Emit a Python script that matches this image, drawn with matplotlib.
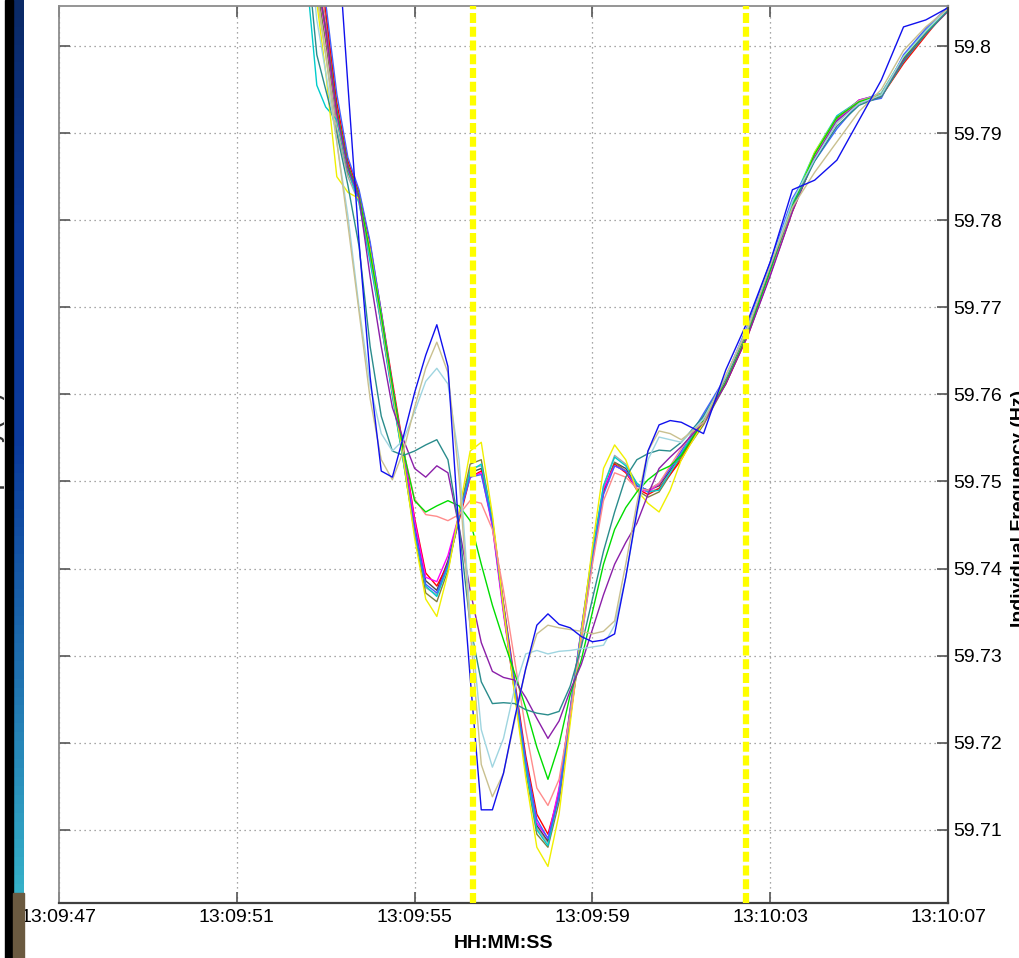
import matplotlib.pyplot as plt
import numpy as np
from matplotlib.colors import LinearSegmentedColormap

plt.rcParams['font.family'] = ['Liberation Sans', 'DejaVu Sans']

# seconds after 13:09:47
t = [5.5, 5.8, 6.0,
     6.25, 6.5, 6.75, 7.0, 7.25, 7.5, 7.75, 8.0, 8.25, 8.5, 8.75, 9.0, 9.25, 9.5, 9.75, 10.0,
     10.25, 10.5, 10.75, 11.0, 11.25, 11.5, 11.75, 12.0, 12.25, 12.5, 12.75, 13.0, 13.25, 13.5, 13.75, 14.0,
     14.5, 15.0, 15.5, 16.0, 16.5, 17.0, 17.5, 18.0, 18.5, 19.0, 19.5, 20.0]

f_red = [59.824, 59.811, 59.804,
         59.7935, 59.7868, 59.7832, 59.7772, 59.7695, 59.7615, 59.7538, 59.7458, 59.7395, 59.738,
         59.7405, 59.7455, 59.7505, 59.7512, 59.7455, 59.736, 59.7272, 59.7185, 59.7118, 59.7095,
         59.7142, 59.723, 59.7322, 59.741, 59.7488, 59.752, 59.751, 59.7492, 59.7485, 59.7492, 59.7508, 59.7525,
         59.7572, 59.7612, 59.7668, 59.7738, 59.781, 59.7872, 59.7912, 59.7935, 59.7942, 59.798, 59.8012, 59.8043]
f_yellow = [59.82, 59.805, 59.797,
            59.785, 59.7832, 59.7825, 59.7765, 59.769, 59.7605, 59.7525, 59.7435, 59.7365, 59.7345,
            59.7395, 59.7465, 59.7535, 59.7545, 59.7462, 59.7355, 59.7255, 59.716, 59.708, 59.7058,
            59.7118, 59.7222, 59.7325, 59.7425, 59.7515, 59.7542, 59.7525, 59.749, 59.7475, 59.7465, 59.749, 59.7525,
            59.7568, 59.762, 59.7676, 59.7742, 59.7815, 59.7878, 59.7918, 59.7936, 59.7942, 59.7983, 59.8014, 59.804]
f_cyan = [59.812, 59.7955, 59.793,
          59.7915, 59.7858, 59.782, 59.7752, 59.768, 59.7598, 59.7522, 59.7442, 59.738, 59.7368,
          59.7402, 59.7458, 59.7512, 59.752, 59.7455, 59.7355, 59.7262, 59.7172, 59.71, 59.7082,
          59.714, 59.7235, 59.7328, 59.7418, 59.7495, 59.7528, 59.7518, 59.7498, 59.7488, 59.749, 59.751, 59.7532,
          59.7575, 59.7618, 59.7677, 59.7745, 59.782, 59.7878, 59.792, 59.7937, 59.7946, 59.7988, 59.8018, 59.8042]
f_magenta = [59.822, 59.808, 59.8015,
             59.792, 59.786, 59.7826, 59.7762, 59.7688, 59.761, 59.7535, 59.7455, 59.739, 59.7385,
             59.7415, 59.7462, 59.7505, 59.751, 59.7448, 59.7348, 59.7258, 59.7172, 59.7108, 59.709,
             59.7148, 59.7238, 59.733, 59.7418, 59.7492, 59.7518, 59.7512, 59.7492, 59.7488, 59.7497, 59.7515, 59.7533,
             59.7568, 59.7614, 59.767, 59.7738, 59.7814, 59.7872, 59.7914, 59.7938, 59.7945, 59.7985, 59.8015, 59.804]
f_blue2 = [59.826, 59.812, 59.805,
           59.7945, 59.7872, 59.7835, 59.7775, 59.7695, 59.761, 59.7528, 59.7445, 59.7382, 59.7372,
           59.7405, 59.746, 59.7505, 59.7508, 59.7452, 59.7358, 59.7268, 59.718, 59.7112, 59.709,
           59.7138, 59.7228, 59.7318, 59.7408, 59.7485, 59.7518, 59.7512, 59.7495, 59.749, 59.7498, 59.7515, 59.7535,
           59.7578, 59.762, 59.768, 59.7752, 59.7825, 59.7868, 59.7905, 59.7935, 59.794, 59.799, 59.802, 59.8045]
f_olive = [59.821, 59.807, 59.8005,
           59.7915, 59.7855, 59.7824, 59.7758, 59.7682, 59.76, 59.7522, 59.744, 59.7372, 59.7362,
           59.7398, 59.7462, 59.752, 59.7525, 59.7455, 59.7352, 59.7258, 59.7168, 59.7095, 59.708,
           59.7132, 59.7228, 59.7322, 59.7412, 59.749, 59.7522, 59.7512, 59.749, 59.7482, 59.7488, 59.7508, 59.7528,
           59.7565, 59.7612, 59.767, 59.7738, 59.7812, 59.7872, 59.7915, 59.7935, 59.7943, 59.7984, 59.8014, 59.8042]
f_gray = [59.82, 59.806, 59.799,
          59.7905, 59.785, 59.782, 59.7755, 59.768, 59.7602, 59.7525, 59.7445, 59.7378, 59.737,
          59.7405, 59.7462, 59.7515, 59.7518, 59.7458, 59.7358, 59.7262, 59.7175, 59.7102, 59.7085,
          59.7145, 59.724, 59.733, 59.742, 59.7495, 59.753, 59.752, 59.7498, 59.7488, 59.7492, 59.7512, 59.753,
          59.7572, 59.7618, 59.7672, 59.7742, 59.7815, 59.7876, 59.7916, 59.7937, 59.7943, 59.7985, 59.8016, 59.8042]
f_dark = [59.823, 59.809, 59.803,
          59.7926, 59.7863, 59.7829, 59.776, 59.7685, 59.7605, 59.753, 59.745, 59.7386, 59.7375,
          59.7409, 59.7461, 59.751, 59.7515, 59.745, 59.7352, 59.726, 59.7174, 59.7105, 59.7087,
          59.7145, 59.7237, 59.7329, 59.7415, 59.749, 59.7522, 59.7515, 59.7495, 59.749, 59.7495, 59.7513, 59.753,
          59.757, 59.7616, 59.7674, 59.774, 59.7817, 59.7875, 59.7917, 59.7938, 59.7944, 59.7986, 59.8016, 59.8041]
f_salmon = [59.823, 59.81, 59.8025,
            59.792, 59.786, 59.7828, 59.776, 59.7685, 59.7605, 59.7535, 59.748, 59.7462, 59.746,
            59.7455, 59.7462, 59.7478, 59.7475, 59.7445, 59.7375, 59.7295, 59.7215, 59.7148, 59.7128,
            59.7158, 59.7232, 59.7318, 59.7405, 59.7478, 59.751, 59.7505, 59.7492, 59.749, 59.7498, 59.7518, 59.7538,
            59.7572, 59.7616, 59.7672, 59.774, 59.7812, 59.7874, 59.7918, 59.7937, 59.7945, 59.7987, 59.8017, 59.8042]
f_green = [59.822, 59.808, 59.802,
           59.7925, 59.7862, 59.7828, 59.7762, 59.769, 59.761, 59.7535, 59.7478, 59.7465, 59.7472,
           59.7478, 59.7472, 59.7455, 59.7405, 59.7358, 59.7318, 59.728, 59.724, 59.7195, 59.7158,
           59.7198, 59.7255, 59.7295, 59.735, 59.7405, 59.7445, 59.747, 59.7488, 59.7502, 59.7512, 59.7518, 59.753,
           59.757, 59.7614, 59.767, 59.7742, 59.7816, 59.7876, 59.7918, 59.7936, 59.7944, 59.7986, 59.8016, 59.8041]
f_purple = [59.822, 59.808, 59.802,
            59.7922, 59.786, 59.7826, 59.7735, 59.7655, 59.7585, 59.7548, 59.7515, 59.7505, 59.7518,
            59.751, 59.7448, 59.7375, 59.7315, 59.7282, 59.7275, 59.7272, 59.7252, 59.7228, 59.7205,
            59.7225, 59.726, 59.729, 59.733, 59.737, 59.7405, 59.743, 59.7452, 59.7485, 59.7515, 59.7528, 59.754,
            59.7568, 59.7612, 59.7668, 59.7736, 59.781, 59.7872, 59.7914, 59.7934, 59.7942, 59.7984, 59.8014, 59.804]
f_teal = [59.815, 59.799, 59.795,
          59.79, 59.784, 59.777, 59.7655, 59.7575, 59.7535, 59.753, 59.7535, 59.7542, 59.7548,
          59.7525, 59.7448, 59.7335, 59.727, 59.7245, 59.7246, 59.7245, 59.7238, 59.7234, 59.7232,
          59.7236, 59.7265, 59.731, 59.7365, 59.742, 59.7465, 59.7505, 59.7525, 59.7532, 59.7536, 59.7535, 59.7545,
          59.7575, 59.7618, 59.7675, 59.7745, 59.7815, 59.7868, 59.7908, 59.7932, 59.7942, 59.7982, 59.8014, 59.8041]
f_pale = [59.818, 59.803, 59.797,
          59.789, 59.7805, 59.77, 59.761, 59.7555, 59.7535, 59.7548, 59.758, 59.7615, 59.763,
          59.7612, 59.7525, 59.7345, 59.7215, 59.7172, 59.7205, 59.7262, 59.7302, 59.7306, 59.7302,
          59.7305, 59.7306, 59.7308, 59.731, 59.7312, 59.7335, 59.739, 59.7462, 59.7525, 59.7551, 59.7548, 59.7545,
          59.7572, 59.762, 59.7678, 59.7748, 59.7822, 59.787, 59.7912, 59.7934, 59.7944, 59.7988, 59.8017, 59.8043]
f_khaki = [59.82, 59.806, 59.799,
           59.789, 59.7795, 59.7695, 59.7595, 59.7525, 59.7502, 59.7535, 59.7585, 59.763, 59.766,
           59.7625, 59.7505, 59.733, 59.7175, 59.7138, 59.7165, 59.7225, 59.7285, 59.7325, 59.7335,
           59.7332, 59.733, 59.7328, 59.7325, 59.7328, 59.734, 59.7405, 59.7475, 59.7535, 59.7558, 59.7555, 59.7548,
           59.7568, 59.7622, 59.7676, 59.7748, 59.7815, 59.7855, 59.789, 59.7925, 59.795, 59.7995, 59.8022, 59.8043]
f_blue = [59.86, 59.845, 59.833,
          59.814, 59.7955, 59.7775, 59.762, 59.7512, 59.7505, 59.7552, 59.7602, 59.7645, 59.768,
          59.7632, 59.744, 59.7275, 59.7123, 59.7123, 59.7165, 59.7228, 59.7285, 59.7335, 59.7348,
          59.7336, 59.7332, 59.7322, 59.7316, 59.7318, 59.7325, 59.739, 59.7465, 59.7535, 59.7565, 59.757, 59.7568,
          59.7555, 59.7628, 59.7685, 59.7752, 59.7835, 59.7846, 59.7869, 59.7915, 59.7961, 59.8022, 59.803, 59.8044]

traces = [(f_gray, '#a8a8a8'), (f_dark, '#4a4a4a'), (f_olive, '#808040'), (f_red, '#ff0000'),
          (f_magenta, '#ff00ff'), (f_cyan, '#00cccc'), (f_blue2, '#4060ff'), (f_yellow, '#f0f000'),
          (f_salmon, '#ff8c8c'), (f_green, '#00dd00'), (f_purple, '#8b1fa9'), (f_teal, '#2a8c8c'),
          (f_pale, '#9fd5e0'), (f_khaki, '#c9c08f'), (f_blue, '#1010ee')]

event_times = [9.32, 15.45]
xtick_pos = [0, 4, 8, 12, 16, 20]
xtick_labels = ['13:09:47', '13:09:51', '13:09:55', '13:09:59', '13:10:03', '13:10:07']
ytick_vals = [59.71, 59.72, 59.73, 59.74, 59.75, 59.76, 59.77, 59.78, 59.79, 59.80]
ytick_labels = ['59.71', '59.72', '59.73', '59.74', '59.75', '59.76', '59.77', '59.78', '59.79', '59.8']

W, H = 1019, 958
fig = plt.figure(figsize=(W / 100, H / 100), dpi=100)

# slide background strip at the left edge
fig.patches.append(plt.Rectangle((5 / W, 0), 8 / W, 1, transform=fig.transFigure, color='black', zorder=0))
fig.patches.append(plt.Rectangle((13 / W, 0), 11 / W, 65 / H, transform=fig.transFigure, color='#6b5a40', zorder=0))
gax = fig.add_axes([13 / W, 65 / H, 11 / W, 893 / H])
cmap = LinearSegmentedColormap.from_list('slide', ['#0b2a66', '#0a3696', '#0a3a9c', '#1f70b0', '#35b0c8'])
gax.imshow(np.linspace(0, 1, 100).reshape(-1, 1), aspect='auto', cmap=cmap)
gax.axis('off')
fig.text(5 / W, 455 / H, 'Individual Frequency (Hz)', rotation=90, ha='right', va='center',
         fontsize=13, fontweight='bold', color='#333333')

ax = fig.add_axes([59 / W, 55 / H, 889 / W, 897 / H])
for vals, c in traces:
    ax.plot(t, vals, color=c, lw=1.0)

for e in event_times:
    ax.axvline(e, color='#ffff00', lw=4.5, dashes=(1.6, 0.6), zorder=5)

ax.set_xlim(0, 20)
ax.set_ylim(59.7016, 59.8046)
ax.set_xticks(xtick_pos)
ax.set_xticklabels(xtick_labels)
ax.set_yticks(ytick_vals)
ax.set_yticklabels(ytick_labels)
ax.grid(True, linestyle=(0, (1, 3)), color='#8a8a8a', lw=0.9)
ax.tick_params(direction='in', length=8, width=1.2, color='#555555', top=True, bottom=True,
               left=True, right=True, labelleft=False, labelright=True, labelsize=14, pad=4)
for s in ['left', 'top']:
    ax.spines[s].set_color('#8c8c8c')
    ax.spines[s].set_linewidth(1.3)
for s in ['right', 'bottom']:
    ax.spines[s].set_color('#404040')
    ax.spines[s].set_linewidth(1.6)
ax.set_xlabel('HH:MM:SS', fontsize=14, fontweight='bold', labelpad=7)
fig.text(1011 / W, 450 / H, 'Individual Frequency (Hz)', rotation=90, ha='left', va='center',
         fontsize=14, fontweight='bold')

fig.savefig('out.png', dpi=100)
